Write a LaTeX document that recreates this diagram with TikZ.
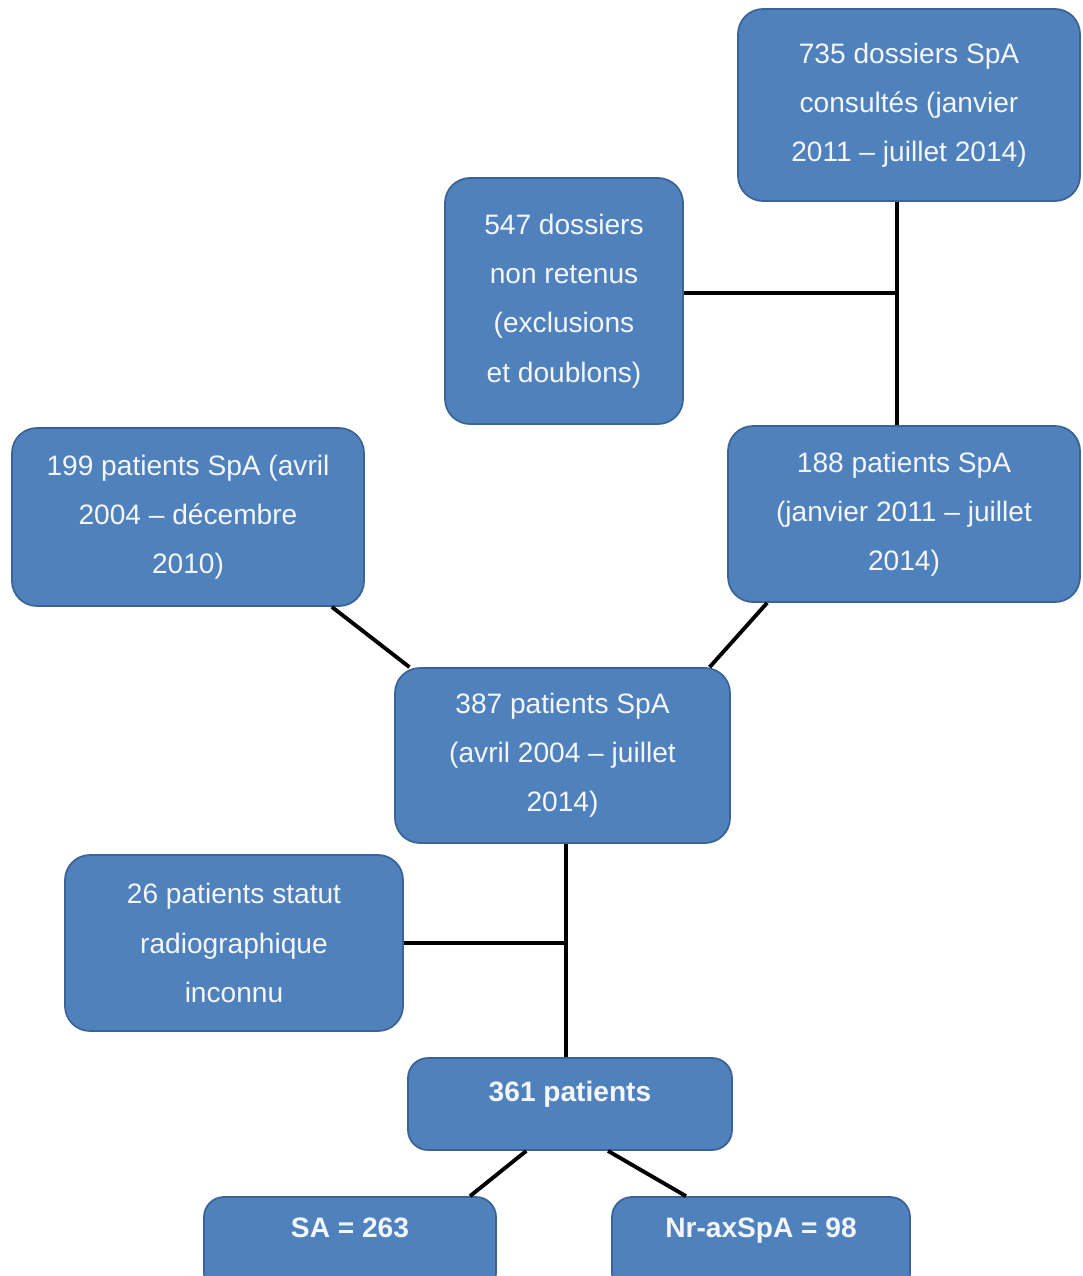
\documentclass[tikz,border=0pt]{standalone}
\usepackage{xcolor}
\usepackage{tikz}
\usetikzlibrary{calc}
\usepackage{fontspec}
\setmainfont{Liberation Sans}
\definecolor{boxfill}{HTML}{4F81BD}
\definecolor{boxline}{HTML}{3A6495}
\definecolor{boxtext}{HTML}{F4F6FA}

\begin{document}
\begin{tikzpicture}[
  stage/.style={rectangle, rounded corners=0.5cm, fill=boxfill, draw=boxline,
                line width=1pt, align=center, text=boxtext,
                font=\fontsize{16}{28}\selectfont, inner sep=2pt},
  link/.style={draw=black, line width=2.2pt},
]
  \clip (0,0) rectangle (21.64,-25.52);
  \node[stage, minimum width=6.84cm, minimum height=3.84cm] (box735) at (18.18,-2.10)
    {735 dossiers SpA\\consultés (janvier\\2011 -- juillet 2014)};
  \node[stage, minimum width=4.76cm, minimum height=4.92cm] (box547) at (11.28,-6.02)
    {547 dossiers\\non retenus\\(exclusions\\et doublons)};
  \node[stage, minimum width=7.04cm, minimum height=3.56cm] (box199) at (3.76,-10.34)
    {199 patients SpA (avril\\2004 -- décembre\\2010)};
  \node[stage, minimum width=7.04cm, minimum height=3.52cm] (box188) at (18.08,-10.28)
    {188 patients SpA\\(janvier 2011 -- juillet\\2014)};
  \node[stage, minimum width=6.70cm, minimum height=3.50cm] (box387) at (11.25,-15.11)
    {387 patients SpA\\(avril 2004 -- juillet\\2014)};
  \node[stage, minimum width=6.76cm, minimum height=3.52cm] (box26) at (4.68,-18.86)
    {26 patients statut\\radiographique\\inconnu};
  \node[stage, rounded corners=0.4cm, minimum width=6.48cm, minimum height=1.84cm,
        text depth=0.5cm] (box361) at (11.40,-22.08)
    {\bfseries 361 patients};
  \node[stage, rounded corners=0.4cm, minimum width=5.84cm, minimum height=1.92cm,
        text depth=0.68cm] (boxSA) at (7.00,-24.90)
    {\bfseries SA = 263};
  \node[stage, rounded corners=0.4cm, minimum width=5.96cm, minimum height=1.92cm,
        text depth=0.68cm] (boxNr) at (15.22,-24.90)
    {\bfseries Nr-axSpA = 98};

  \coordinate (trunk) at (17.94,0);
  \coordinate (stem) at (11.32,0);
  \draw[link] (box735.south -| trunk) -- (box188.north -| trunk);
  \draw[link] ($(box547.east)+(0,0.16)$) -- ($(box547.east -| trunk)+(0,0.16)$);
  \draw[link] (box199.-32) -- (box387.150);
  \draw[link] (box188.213) -- (box387.31);
  \draw[link] (box387.south -| stem) -- (box361.north -| stem);
  \draw[link] (box26.east) -- (box26.east -| stem);
  \draw[link] (box361.227) -- ($(boxSA.north)+(2.4,0)$);
  \draw[link] (box361.309) -- ($(boxNr.north)+(-1.5,0)$);
\end{tikzpicture}
\end{document}
